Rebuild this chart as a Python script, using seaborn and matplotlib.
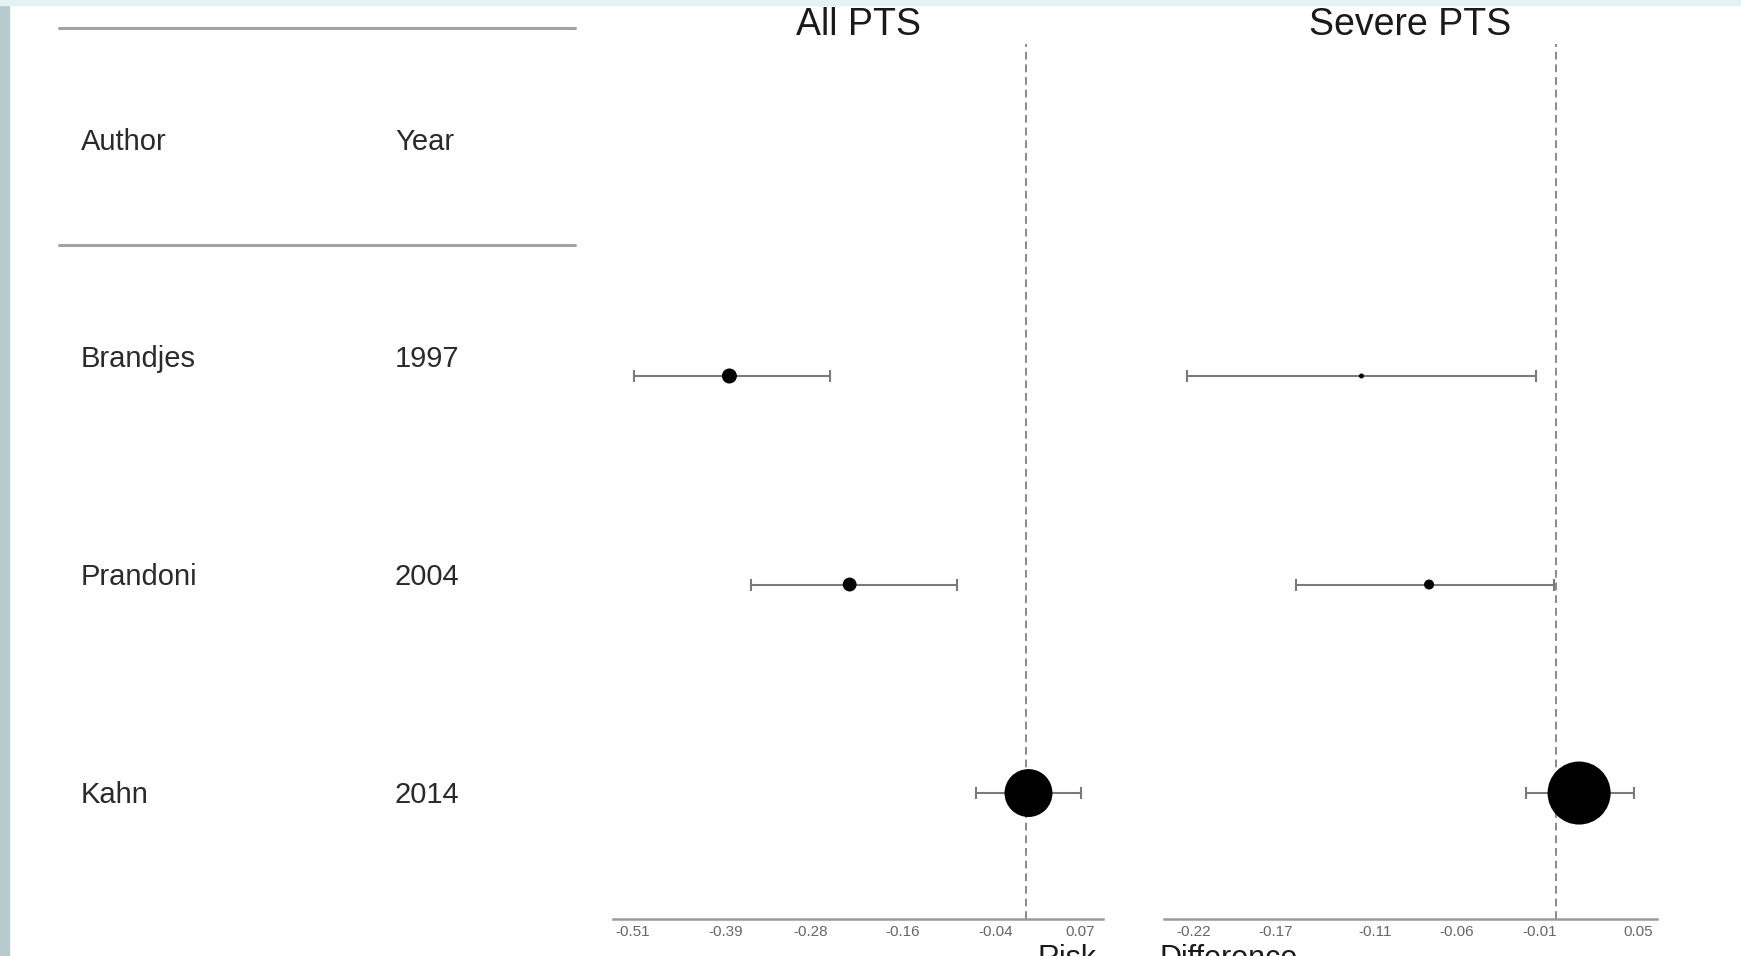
import numpy as np
import pandas as pd
import matplotlib
matplotlib.use("Agg")
import matplotlib.pyplot as plt
import seaborn as sns
from matplotlib.patches import Rectangle
from matplotlib.lines import Line2D

# ---- data ----
authors = ["Brandjes", "Prandoni", "Kahn"]
years = ["1997", "2004", "2014"]

# All PTS: risk difference with 95% CI, marker area ~ study weight
all_rd = [-0.385, -0.229, 0.003]
all_lo = [-0.509, -0.357, -0.065]
all_hi = [-0.254, -0.090, 0.071]
all_weight = [117, 100, 1190]
all_ticks = [-0.51, -0.39, -0.28, -0.16, -0.04, 0.07]

# Severe PTS
sev_rd = [-0.118, -0.077, 0.014]
sev_lo = [-0.224, -0.158, -0.018]
sev_hi = [-0.012, -0.001, 0.047]
sev_weight = [13, 52, 2060]
sev_ticks = [-0.22, -0.17, -0.11, -0.06, -0.01, 0.05]

W, H = 1741, 956


def fx(px):
    return px / W


def fy(px):
    return 1 - px / H


def make_df(rd, lo, hi, weight):
    df = pd.DataFrame({"author": authors, "rd": rd, "lo": lo, "hi": hi, "w": weight})
    df["row"] = np.arange(len(df), 0, -1)
    return df


def forest_panel(ax, df, ticks, xlim):
    ax.errorbar(df["rd"], df["row"], xerr=[df["rd"] - df["lo"], df["hi"] - df["rd"]],
                fmt="none", ecolor="#7a7a7a", elinewidth=1.5, capsize=4, capthick=1.5, zorder=2)
    sns.scatterplot(data=df, x="rd", y="row", s=df["w"], marker="o", color="black",
                    edgecolor="black", linewidth=0, legend=False, ax=ax, zorder=3)
    ax.axvline(0, color="#8a8a8a", lw=1.4, ls=(0, (4, 2.5)), zorder=1)
    ax.set_xlim(*xlim)
    ax.set_ylim(0.396, 4.592)
    ax.set_xticks(ticks)
    ax.set_xticklabels([f"{t:.2f}" for t in ticks])
    ax.set_yticks([])
    ax.set_xlabel("")
    ax.set_ylabel("")
    for s in ["left", "right", "top"]:
        ax.spines[s].set_visible(False)
    ax.spines["bottom"].set_color("#9a9a9a")
    ax.spines["bottom"].set_linewidth(1.8)
    ax.tick_params(axis="x", direction="inout", length=5, width=1, color="#9a9a9a",
                   labelsize=11, labelcolor="#666666", pad=2)
    ax.set_facecolor("none")


sns.set_style("white")
plt.rcParams["font.family"] = ["Liberation Sans", "DejaVu Sans"]

fig = plt.figure(figsize=(W / 100, H / 100), dpi=100)
fig.patch.set_facecolor("white")

# frame strips from the screenshot
fig.patches.append(Rectangle((0, 0), fx(9), 1, transform=fig.transFigure,
                             color="#b7cbce", zorder=-1))
fig.patches.append(Rectangle((0, fy(5)), 1, 5 / H, transform=fig.transFigure,
                             color="#e3f2f5", zorder=-1))

ax1 = fig.add_axes([fx(613), fy(919), fx(1102.5) - fx(613), (919 - 44) / H])
ax2 = fig.add_axes([fx(1163.6), fy(919), fx(1656.6) - fx(1163.6), (919 - 44) / H])

forest_panel(ax1, make_df(all_rd, all_lo, all_hi, all_weight), all_ticks, (-0.536, 0.099))
forest_panel(ax2, make_df(sev_rd, sev_lo, sev_hi, sev_weight), sev_ticks, (-0.238, 0.061))

# panel titles
fig.text(fx(858), fy(35), "All PTS", ha="center", va="baseline", fontsize=27, color="#1a1a1a")
fig.text(fx(1410), fy(35), "Severe PTS", ha="center", va="baseline", fontsize=27, color="#1a1a1a")

# study table on the left
for y in [28, 245]:
    fig.add_artist(Line2D([fx(59), fx(575)], [fy(y), fy(y)], transform=fig.transFigure,
                          color="#a3a3a3", lw=2.2))
fig.text(fx(81), fy(150), "Author", va="baseline", fontsize=21, color="#2a2a2a")
fig.text(fx(395), fy(150), "Year", va="baseline", fontsize=21, color="#2a2a2a")
for name, yr, base in zip(authors, years, [367, 585, 803]):
    fig.text(fx(81), fy(base), name, va="baseline", fontsize=21, color="#2a2a2a")
    fig.text(fx(395), fy(base), yr, va="baseline", fontsize=21, color="#2a2a2a")

# shared x label, cut by the bottom edge like the original
fig.text(fx(1038), fy(944), "Risk", va="top", fontsize=22, color="#1a1a1a")
fig.text(fx(1160), fy(944), "Difference", va="top", fontsize=22, color="#1a1a1a")

fig.savefig("out.png", dpi=100)
